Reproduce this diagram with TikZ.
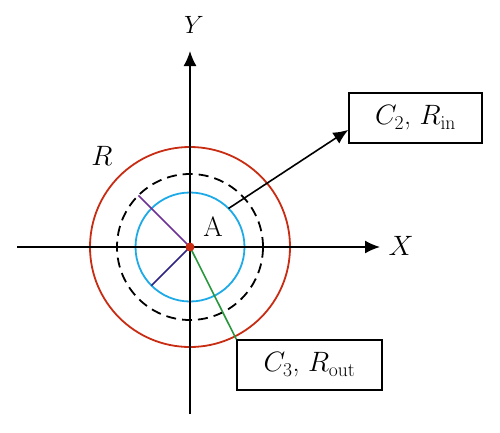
\RequirePackage{fix-cm}
\documentclass[tikz,border=0pt]{standalone}
\usetikzlibrary{arrows.meta}
\definecolor{redc}{RGB}{200,45,20}
\definecolor{bluec}{RGB}{30,170,230}
\definecolor{greenc}{RGB}{40,150,60}
\definecolor{purplec}{RGB}{110,50,150}
\definecolor{navyc}{RGB}{45,35,130}
\begin{document}
\begin{tikzpicture}[x=1pt,y=-1pt,
  ring/.style={circle,inner sep=0pt,outer sep=0pt,line width=1.8pt},
  axis/.style={line width=1.6pt,-{Latex[length=15pt,width=13pt]}},
  lbl/.style={font=\fontsize{28}{32}\selectfont,inner sep=0pt},
  infobox/.style={draw,line width=1.3pt,minimum height=50pt,inner sep=0pt,font=\fontsize{28}{32}\selectfont},
  arr/.style={line width=1.6pt,-{Latex[length=15pt,width=13pt]}}]
\useasboundingbox (0,0) rectangle (500,432);
% circles
\node[ring,draw=redc,minimum size=200pt] (red) at (190,247) {};
\node[ring,draw=black,dash pattern=on 10pt off 6pt,minimum size=146pt] (dash) at (190,247) {};
\node[ring,draw=bluec,minimum size=109pt] (blue) at (190,247) {};
% axes
\coordinate (xs) at (17,247);
\coordinate (xe) at (380,247);
\coordinate (ys) at (190,414);
\coordinate (ye) at (190,51);
\draw[axis] (xs) -- (xe);
\draw[axis] (ys) -- (ye);
\node[lbl] (X) at (401,246) {$X$};
\node[lbl,font=\fontsize{25}{28}\selectfont] (Y) at (194,25) {$Y$};
\node[lbl] (R) at (102,156) {$R$};
\node[lbl] (A) at (213,227) {A};
% boxes
\node[infobox,minimum width=133pt] (c2) at (415.5,118) {$C_2$, $R_{\mathrm{in}}$};
\node[infobox,minimum width=145pt] (c3) at (309.5,365) {$C_3$, $R_{\mathrm{out}}$};
% radii
\coordinate (O) at (190,247);
\draw[line width=1.6pt,purplec] (O) -- (dash.135);
\draw[line width=1.6pt,navyc] (O) -- (blue.225);
\draw[line width=1.6pt,greenc] (O) -- (c3.north west);
\draw[arr] (blue.45) -- (c2.190);
\fill[redc] (O) circle (4.5pt);
\end{tikzpicture}
\end{document}
